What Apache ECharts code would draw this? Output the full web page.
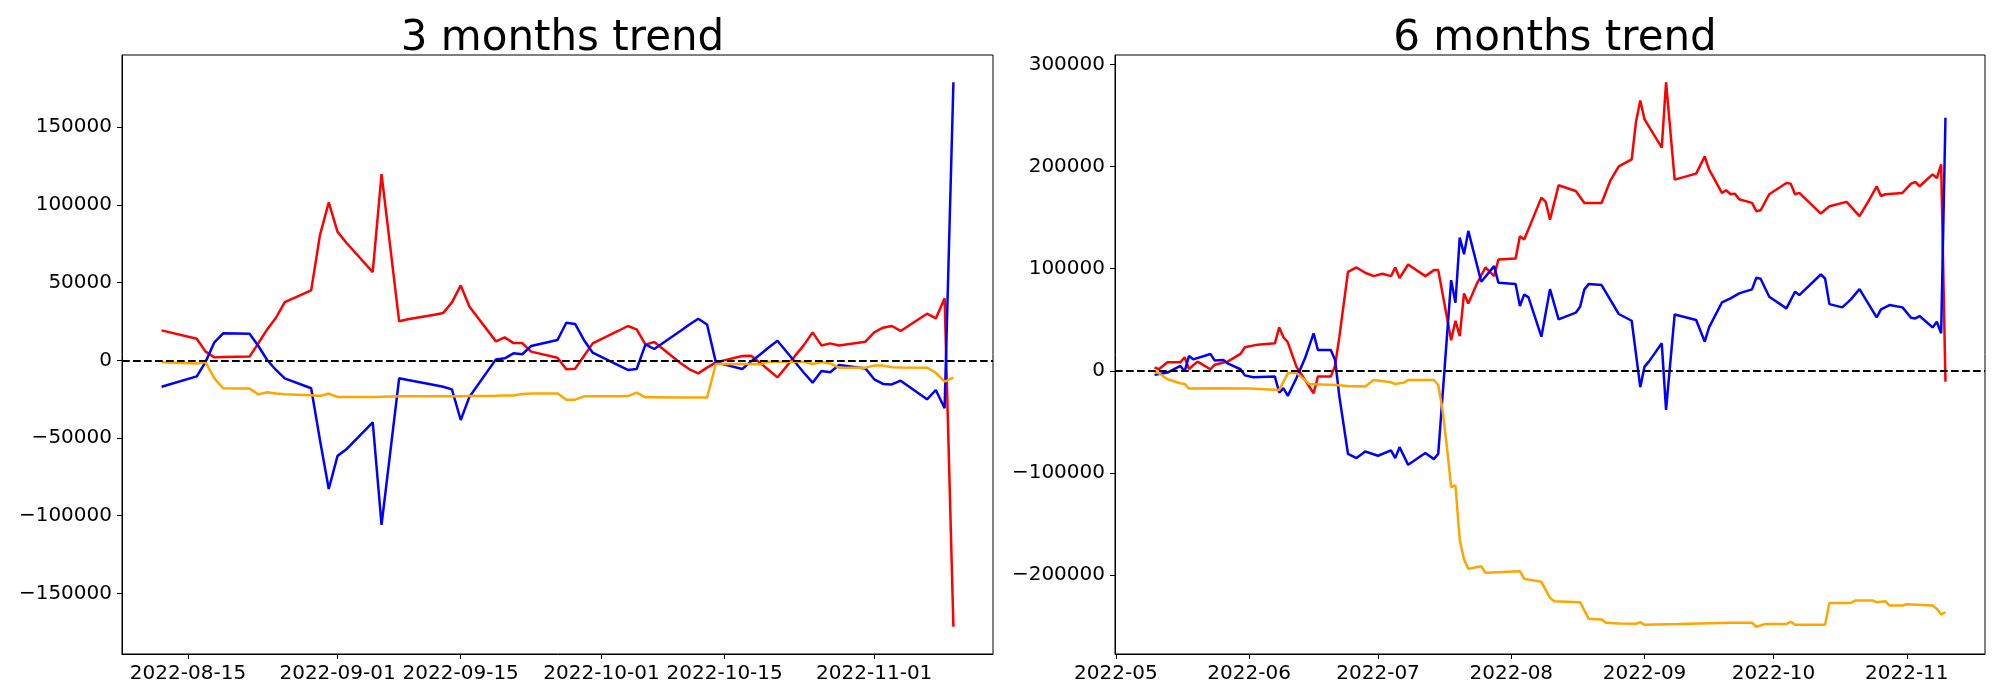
<!DOCTYPE html>
<html>
<head>
<meta charset="utf-8">
<script src="https://cdn.jsdelivr.net/npm/echarts@6/dist/echarts.min.js"></script>
<style>
html,body{margin:0;padding:0;background:#fff;}
#chart{width:2000px;height:700px;}
</style>
</head>
<body>
<div id="chart"></div>
<script>
// ---------- 3 months trend ----------
const dates3 = [
  '2022-08-12','2022-08-16','2022-08-17','2022-08-18','2022-08-19','2022-08-22','2022-08-23','2022-08-24','2022-08-25','2022-08-26','2022-08-29','2022-08-30','2022-08-31',
  '2022-09-01','2022-09-02','2022-09-05','2022-09-06','2022-09-07','2022-09-08','2022-09-09','2022-09-12','2022-09-13','2022-09-14','2022-09-15','2022-09-16','2022-09-19','2022-09-20','2022-09-21','2022-09-22','2022-09-23','2022-09-26','2022-09-27','2022-09-28','2022-09-29','2022-09-30',
  '2022-10-03','2022-10-04','2022-10-05','2022-10-06','2022-10-07','2022-10-10','2022-10-11','2022-10-12','2022-10-13','2022-10-14','2022-10-17','2022-10-18','2022-10-19','2022-10-20','2022-10-21','2022-10-24','2022-10-25','2022-10-26','2022-10-27','2022-10-28','2022-10-31',
  '2022-11-01','2022-11-02','2022-11-03','2022-11-04','2022-11-07','2022-11-08','2022-11-09','2022-11-10'
];
const red3 = [
  19300,13900,5600,1900,2100,2400,11000,19900,27400,37500,45000,80600,101600,
  82700,75700,56800,119800,72500,25100,26400,29400,30400,37300,48200,34500,12200,14800,11100,11100,5600,1700,-5800,-5400,2800,10900,
  19200,22100,19900,10100,11800,-1900,-5800,-8400,-4700,-1300,2800,3000,-1500,-6200,-11000,9800,18000,9600,10900,9600,12000,
  18000,21000,22100,18900,30000,27000,39900,-171500
];
const blue3 = [
  -17000,-10300,-1000,11600,17400,17100,9200,200,-6200,-11600,-18000,-51300,-82800,
  -61500,-57300,-39900,-105900,-58800,-11600,-12700,-15900,-17000,-18700,-38400,-23400,600,1300,4500,3900,9200,13100,24200,23400,13100,4900,
  -3400,-6200,-5600,10300,7300,19100,23100,26800,23100,-1300,-5600,-700,3600,8300,12600,-8000,-14400,-6900,-7700,-3000,-5200,
  -12200,-15200,-15500,-13100,-25100,-19100,-30900,179000
];
const orange3 = [
  -1300,-2000,-1300,-11600,-18000,-18200,-21900,-20600,-21400,-21900,-22500,-23000,-21400,
  -23600,-23600,-23600,-23400,-23300,-23200,-23200,-23200,-23200,-23200,-23200,-23000,-22800,-22700,-22700,-21700,-21400,-21400,-25300,-25300,-23200,-23200,
  -23100,-23000,-20800,-23800,-23800,-23900,-23900,-24000,-24000,-2400,-2400,-2400,-2600,-900,-900,-900,-2400,-1100,-2000,-4700,-4700,
  -3400,-3400,-4500,-4600,-4700,-8000,-13700,-11200
];
const xTicks3 = ['2022-08-15','2022-09-01','2022-09-15','2022-10-01','2022-10-15','2022-11-01'];
const yTicks3 = [-150000,-100000,-50000,0,50000,100000,150000];

// ---------- 6 months trend ----------
const red6Dates = ['2022-05-10','2022-05-11','2022-05-13','2022-05-16','2022-05-17','2022-05-18','2022-05-20','2022-05-23','2022-05-24','2022-05-27','2022-05-30','2022-05-31',
  '2022-06-03','2022-06-07','2022-06-08','2022-06-09','2022-06-10','2022-06-12','2022-06-16','2022-06-17','2022-06-20','2022-06-21','2022-06-22','2022-06-24','2022-06-26','2022-06-28','2022-06-30',
  '2022-07-02','2022-07-04','2022-07-05','2022-07-06','2022-07-08','2022-07-12','2022-07-14','2022-07-15','2022-07-18','2022-07-19','2022-07-20','2022-07-21','2022-07-22','2022-07-24','2022-07-26','2022-07-28','2022-07-29',
  '2022-08-02','2022-08-03','2022-08-04','2022-08-06','2022-08-08','2022-08-09','2022-08-10','2022-08-12','2022-08-16','2022-08-18','2022-08-22','2022-08-24','2022-08-26','2022-08-29','2022-08-30','2022-08-31',
  '2022-09-01','2022-09-05','2022-09-06','2022-09-08','2022-09-13','2022-09-15','2022-09-16','2022-09-19','2022-09-20','2022-09-21','2022-09-22','2022-09-23','2022-09-26','2022-09-27','2022-09-28','2022-09-30',
  '2022-10-04','2022-10-05','2022-10-06','2022-10-07','2022-10-12','2022-10-14','2022-10-18','2022-10-21','2022-10-23','2022-10-25','2022-10-26','2022-10-27','2022-10-31',
  '2022-11-02','2022-11-03','2022-11-04','2022-11-07','2022-11-08','2022-11-09','2022-11-10'];
const red6 = [3400,1500,8300,8300,13200,1800,9000,1500,6000,9000,16500,23000,
  25600,26900,42500,32800,27900,4100,-22000,-5700,-5700,5000,33400,96900,101200,96000,92700,
  95000,92700,101200,90800,104100,92700,98600,98600,30000,49000,34000,75800,66000,85500,101200,92700,109000,
  110000,131800,128500,149000,169600,165400,148000,181700,176100,164400,164400,185900,200200,207100,243600,264700,
  246200,218500,282600,187200,193100,210000,197300,174200,176800,172900,173500,168000,164400,156200,157200,172900,
  183900,183300,172900,174200,154000,161100,165400,151400,165400,180700,171200,172900,174200,
  183300,184900,180700,192400,188800,202200,-10600];

const blue6Dates = ['2022-05-10','2022-05-13','2022-05-16','2022-05-17','2022-05-18','2022-05-19','2022-05-23','2022-05-24','2022-05-26','2022-05-27','2022-05-30','2022-05-31',
  '2022-06-02','2022-06-07','2022-06-08','2022-06-09','2022-06-10','2022-06-12','2022-06-14','2022-06-16','2022-06-17','2022-06-20','2022-06-21','2022-06-22','2022-06-24','2022-06-26','2022-06-28',
  '2022-07-01','2022-07-04','2022-07-05','2022-07-06','2022-07-08','2022-07-12','2022-07-14','2022-07-15','2022-07-18','2022-07-19','2022-07-20','2022-07-21','2022-07-22','2022-07-25','2022-07-28','2022-07-29',
  '2022-08-02','2022-08-03','2022-08-04','2022-08-05','2022-08-08','2022-08-10','2022-08-12','2022-08-16','2022-08-17','2022-08-18','2022-08-19','2022-08-22','2022-08-26','2022-08-29','2022-08-31',
  '2022-09-01','2022-09-02','2022-09-05','2022-09-06','2022-09-08','2022-09-13','2022-09-15','2022-09-16','2022-09-19','2022-09-21','2022-09-23','2022-09-26','2022-09-27','2022-09-28','2022-09-30',
  '2022-10-04','2022-10-06','2022-10-07','2022-10-12','2022-10-13','2022-10-14','2022-10-17','2022-10-19','2022-10-21','2022-10-25','2022-10-26','2022-10-28','2022-10-31',
  '2022-11-02','2022-11-03','2022-11-04','2022-11-07','2022-11-08','2022-11-09','2022-11-10'];
const blue6 = [-4000,-1700,4700,-600,14500,11200,16500,10000,10600,7300,1500,-4500,
  -6300,-5700,-21300,-17100,-24600,-7300,12200,36700,20400,20400,10600,-25300,-81300,-85500,-79000,
  -83200,-78000,-85500,-74800,-92100,-80600,-86500,-81300,88800,66600,130500,114200,137000,87200,102500,86200,
  84900,63400,74800,71900,33400,80000,50400,56900,62700,79700,84900,83900,55600,49000,-16000,
  4100,9000,26900,-38300,55200,49700,28500,42500,66900,70900,75800,79700,91100,90100,72500,
  61100,77400,74100,94300,90400,65300,62100,69900,80000,52300,60100,64400,62100,
  52000,51300,53600,42500,48000,36700,247800];

const orange6Dates = ['2022-05-10','2022-05-11','2022-05-13','2022-05-16','2022-05-17','2022-05-18','2022-05-24',
  '2022-06-01','2022-06-08','2022-06-10','2022-06-12','2022-06-15','2022-06-21','2022-06-24','2022-06-28','2022-06-30',
  '2022-07-04','2022-07-05','2022-07-07','2022-07-08','2022-07-14','2022-07-15','2022-07-16','2022-07-17','2022-07-18','2022-07-19','2022-07-20','2022-07-21','2022-07-22','2022-07-25','2022-07-26',
  '2022-08-03','2022-08-04','2022-08-08','2022-08-10','2022-08-11','2022-08-17','2022-08-19','2022-08-22','2022-08-23','2022-08-26','2022-08-30','2022-08-31',
  '2022-09-01','2022-09-09','2022-09-21','2022-09-26','2022-09-27','2022-09-29',
  '2022-10-04','2022-10-05','2022-10-06','2022-10-13','2022-10-14','2022-10-19','2022-10-20','2022-10-24','2022-10-25','2022-10-27','2022-10-28','2022-10-31',
  '2022-11-01','2022-11-07','2022-11-08','2022-11-09','2022-11-10'];
const orange6 = [-800,-2500,-8300,-12200,-12900,-17400,-17100,
  -17400,-18700,-2500,-1800,-12900,-13900,-14800,-15500,-9000,
  -11300,-12900,-11600,-9000,-9000,-13900,-38300,-74100,-113900,-112200,-165400,-184900,-194000,-191400,-197900,
  -196300,-203800,-206700,-222400,-225600,-226600,-242900,-243500,-246800,-247500,-247800,-246200,
  -248800,-248100,-246800,-246800,-250700,-248100,
  -248100,-245800,-248800,-248800,-227300,-227300,-225000,-225000,-226600,-225600,-229900,-229900,
  -228600,-229900,-233000,-238700,-236400];
const xTicks6 = ['2022-05','2022-06','2022-07','2022-08','2022-09','2022-10','2022-11'];
const yTicks6 = [-200000,-100000,0,100000,200000,300000];

// ---------- helpers ----------
function ts(s) {
  const p = s.split('-').map(Number);
  return Date.UTC(p[0], p[1] - 1, p[2] || 1);
}
function pairs(dates, vals) { return dates.map((d, i) => [ts(d), vals[i]]); }
function xRange(dateLists) {
  let lo = Infinity, hi = -Infinity;
  dateLists.forEach(l => l.forEach(d => { const t = ts(d); lo = Math.min(lo, t); hi = Math.max(hi, t); }));
  const m = (hi - lo) * 0.05;
  return [lo - m, hi + m];
}
function yRange(valLists) {
  let lo = Infinity, hi = -Infinity;
  valLists.forEach(l => l.forEach(v => { lo = Math.min(lo, v); hi = Math.max(hi, v); }));
  const m = (hi - lo) * 0.05;
  return [lo - m, hi + m];
}

const F = 'DejaVu Sans';
const xr3 = xRange([dates3]);
const yr3 = yRange([red3, blue3, orange3]);
const xr6 = xRange([red6Dates, blue6Dates, orange6Dates]);
const yr6 = yRange([red6, blue6, orange6]);

function xAxisDef(gi, range, ticks) {
  const vals = ticks.map(ts);
  const map = {};
  ticks.forEach(s => { map[ts(s)] = s; });
  return {
    type: 'value', gridIndex: gi, min: range[0], max: range[1], scale: true,
    axisLine: { show: true, onZero: false, lineStyle: { color: '#000', width: 1 } },
    axisTick: { show: true, length: 5, lineStyle: { color: '#000', width: 1 }, customValues: vals },
    axisLabel: { show: true, customValues: vals, margin: 10, color: '#000', fontFamily: F, fontSize: 20,
      hideOverlap: false, showMinLabel: true, showMaxLabel: true, formatter: v => map[v] || '' },
    splitLine: { show: false }, minorTick: { show: false }
  };
}
function yAxisDef(gi, range, ticks) {
  return {
    type: 'value', gridIndex: gi, min: range[0], max: range[1],
    axisLine: { show: true, onZero: false, lineStyle: { color: '#000', width: 1 } },
    axisTick: { show: true, length: 5, lineStyle: { color: '#000', width: 1 }, customValues: ticks },
    axisLabel: { show: true, customValues: ticks, margin: 10, color: '#000', fontFamily: F, fontSize: 20,
      formatter: v => String(v).replace('-', '\u2212') },
    splitLine: { show: false }
  };
}
function lineSeries(gi, color, data) {
  return {
    type: 'line', xAxisIndex: gi, yAxisIndex: gi, data: data, showSymbol: false, symbol: 'none',
    lineStyle: { color: color, width: 2.5 }, itemStyle: { color: color }, animation: false, silent: true
  };
}
function zeroLine(gi) {
  return {
    type: 'line', xAxisIndex: gi, yAxisIndex: gi, data: [], silent: true, animation: false, z: 5,
    markLine: { symbol: 'none', silent: true, animation: false, label: { show: false },
      lineStyle: { color: '#000', width: 2.2, type: [7.7, 3.3] }, data: [{ yAxis: 0 }] }
  };
}

const chart = echarts.init(document.getElementById('chart'), null, { renderer: 'canvas' });
chart.setOption({
  backgroundColor: '#fff',
  animation: false,
  title: [
    { text: '3 months trend', left: 557.5, top: 13, textAlign: 'center',
      textStyle: { fontFamily: F, fontSize: 42, fontWeight: 'normal', color: '#000' } },
    { text: '6 months trend', left: 1550, top: 13, textAlign: 'center',
      textStyle: { fontFamily: F, fontSize: 42, fontWeight: 'normal', color: '#000' } }
  ],
  grid: [
    { left: 122, top: 55, width: 871, height: 599, show: true, borderColor: '#000', borderWidth: 1, backgroundColor: 'transparent' },
    { left: 1115, top: 55, width: 870, height: 599, show: true, borderColor: '#000', borderWidth: 1, backgroundColor: 'transparent' }
  ],
  xAxis: [ xAxisDef(0, xr3, xTicks3), xAxisDef(1, xr6, xTicks6) ],
  yAxis: [ yAxisDef(0, yr3, yTicks3), yAxisDef(1, yr6, yTicks6) ],
  series: [
    lineSeries(0, '#ff0000', pairs(dates3, red3)),
    lineSeries(0, '#0000ff', pairs(dates3, blue3)),
    lineSeries(0, '#ffa500', pairs(dates3, orange3)),
    zeroLine(0),
    lineSeries(1, '#ff0000', pairs(red6Dates, red6)),
    lineSeries(1, '#0000ff', pairs(blue6Dates, blue6)),
    lineSeries(1, '#ffa500', pairs(orange6Dates, orange6)),
    zeroLine(1)
  ]
});
</script>
</body>
</html>
